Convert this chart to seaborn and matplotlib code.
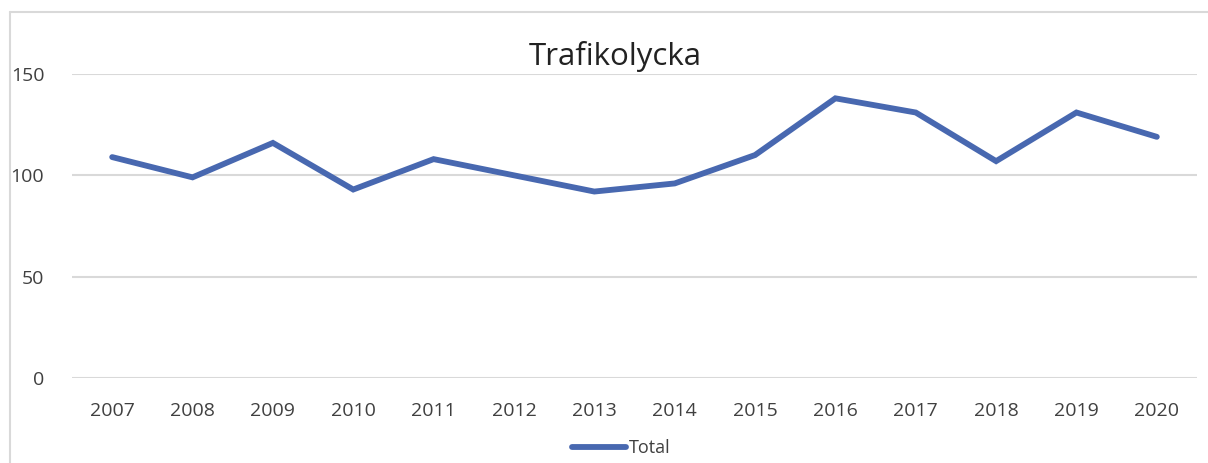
import pandas as pd
import seaborn as sns
import matplotlib.pyplot as plt
from matplotlib.lines import Line2D

# data
years = ["2007", "2008", "2009", "2010", "2011", "2012", "2013",
         "2014", "2015", "2016", "2017", "2018", "2019", "2020"]
total = [109, 99, 116, 93, 108, 100, 92, 96, 110, 138, 131, 107, 131, 119]

df = pd.DataFrame({"year": years, "Total": total})

sns.set_style("white")
plt.rcParams['font.family'] = ['Open Sans', 'DejaVu Sans']

blue = "#4868B0"
gray_text = "#404040"

fig = plt.figure(figsize=(12.08, 4.63), dpi=100)
ax = fig.add_axes([72 / 1208, 1 - 378 / 463, (1197 - 72) / 1208, (378 - 74) / 463])

sns.lineplot(x="year", y="Total", data=df, color=blue, linewidth=4.2,
             sort=False, ax=ax, solid_capstyle="round", solid_joinstyle="miter")

ax.set_xlim(-0.5, len(years) - 0.5)
ax.set_ylim(0, 150)
ax.set_yticks([0, 50, 100, 150])
ax.yaxis.grid(True, color="#D9D9D9", linewidth=1.5)
ax.set_axisbelow(True)
for s in ax.spines.values():
    s.set_visible(False)
ax.set_xlabel("")
ax.set_ylabel("")
ax.tick_params(axis="both", length=0, labelsize=14, colors=gray_text)
ax.tick_params(axis="x", pad=17)
ax.tick_params(axis="y", pad=20)
for ln in ax.get_lines():
    ln.set_clip_on(False)

fig.text(615 / 1208, 1 - 57 / 463, "Trafikolycka", ha="center", va="center",
         fontsize=22.5, color="#222222")

# legend at bottom
handle = Line2D([], [], color=blue, linewidth=4.2, solid_capstyle="round")
fig.legend([handle], ["Total"], loc="center", bbox_to_anchor=(621 / 1208, 1 - 448 / 463),
           frameon=False, fontsize=13, handlelength=3.0, handletextpad=0.15,
           labelcolor=gray_text)

# chart border (cropped on right and bottom)
fig.add_artist(Line2D([10 / 1208, 10 / 1208], [0, 1 - 12 / 463], transform=fig.transFigure,
                      color="#D9D9D9", linewidth=1.5))
fig.add_artist(Line2D([10 / 1208, 1], [1 - 12 / 463, 1 - 12 / 463], transform=fig.transFigure,
                      color="#D9D9D9", linewidth=1.5))

plt.savefig("out.png", dpi=100)
